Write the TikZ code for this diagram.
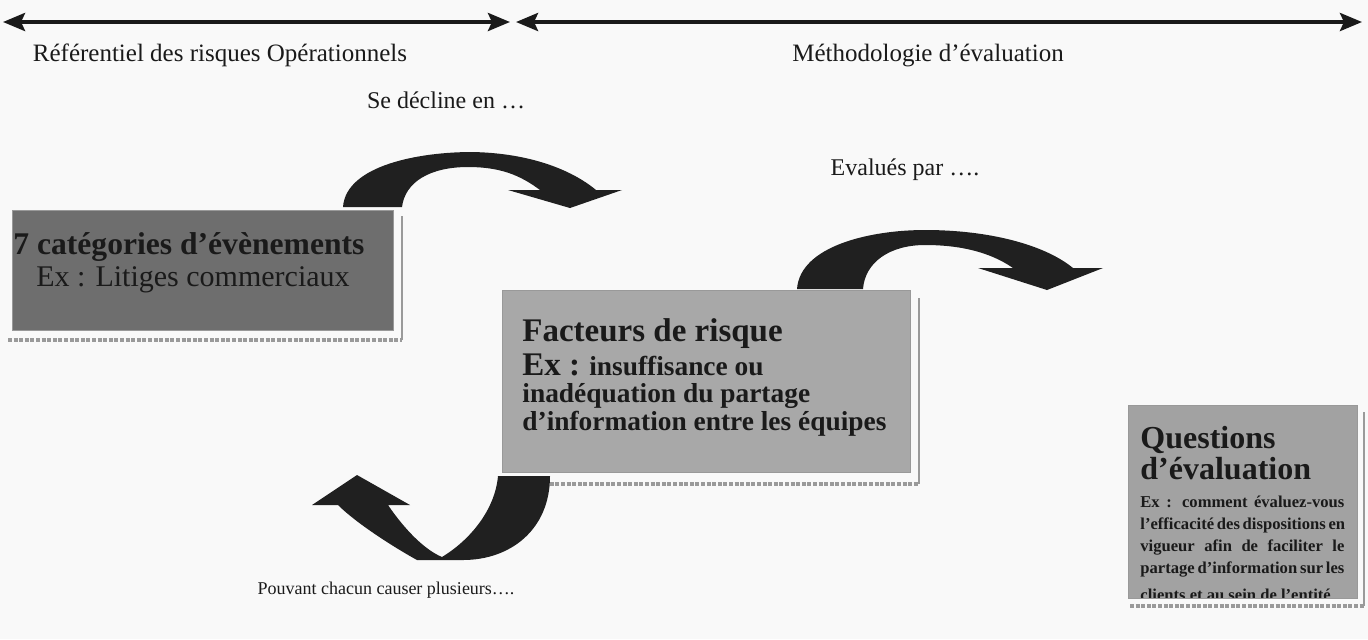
\documentclass[tikz,border=0pt]{standalone}
\usepackage{fontspec}
\setmainfont{Liberation Serif}
\usetikzlibrary{arrows.meta}
\definecolor{bg}{HTML}{F9F9F9}
\definecolor{ink}{HTML}{1A1A1A}
\definecolor{arrowc}{HTML}{202020}
\definecolor{boxA}{HTML}{6E6E6E}
\definecolor{boxB}{HTML}{A8A8A8}
\definecolor{boxC}{HTML}{A2A2A2}
\definecolor{shadowc}{HTML}{9A9A9A}
\tikzset{
  toparrow/.style={draw=ink, line width=2pt, {Stealth[length=11pt,width=9pt,inset=2pt]}-{Stealth[length=11pt,width=9pt,inset=2pt]}},
  lab/.style={inner sep=0pt, text=ink, font=\fontsize{12.5}{15}\selectfont},
  smalllab/.style={inner sep=0pt, text=ink, font=\fontsize{9}{11}\selectfont},
  box/.style={rectangle, inner sep=0pt, draw=gray!80, line width=0.3pt},
  shadowline/.style={draw=shadowc, line width=1.2pt},
  shadowdash/.style={draw=shadowc, line width=1.8pt, dash pattern=on 2pt off 0.8pt},
  blockarrow/.style={fill=arrowc},
  txt/.style={inner sep=0pt, text=ink, anchor=base west},
  titleA/.style={txt, font=\fontsize{15.8}{18}\selectfont\bfseries},
  bodyA/.style={txt, font=\fontsize{15}{18}\selectfont},
  titleB/.style={txt, font=\fontsize{16.5}{19}\selectfont\bfseries},
  bodyB/.style={txt, font=\fontsize{13.7}{16}\selectfont\bfseries},
  titleC/.style={txt, font=\fontsize{16}{19}\selectfont\bfseries},
  bodyC/.style={txt, font=\fontsize{8.3}{10}\selectfont\bfseries},
}
\begin{document}
\begin{tikzpicture}[x=0.5pt,y=-0.5pt]
\useasboundingbox (0,0) rectangle (1368,639);
\fill[bg] (0,0) rectangle (1368,639);

% top double arrows
\coordinate (l1) at (3,22);
\coordinate (r1) at (510,22);
\coordinate (l2) at (516,22);
\coordinate (r2) at (1362,22);
\draw[toparrow] (l1) -- (r1);
\draw[toparrow] (l2) -- (r2);
\node[lab] (ref) at (220,55) {Référentiel des risques Opérationnels};
\node[lab] (meth) at (928,55) {Méthodologie d’évaluation};

% labels
\node[lab, font=\fontsize{12}{14}\selectfont] (decl) at (446,100) {Se décline en …};
\node[lab, font=\fontsize{12}{14}\selectfont] (eval) at (905,170) {Evalués par ….};
\node[smalllab] (pouv) at (386,590) {Pouvant chacun causer plusieurs….};

% box 1
\draw[shadowline] (402,216) -- (402,340);
\draw[shadowdash] (8,340) -- (402,340);
\node[box, fill=boxA, minimum width=190.5pt, minimum height=60pt] (box1) at (202.5,270) {};
\node[titleA] (b1t) at (13,254) {7 catégories d’évènements};
\node[bodyA] (b1b) at (36,286) {Ex : Litiges commerciaux};

% box 2
\draw[shadowline] (919,298) -- (919,484);
\draw[shadowdash] (505,484) -- (919,484);
\node[box, fill=boxB, minimum width=204pt, minimum height=91pt] (box2) at (706,381) {};
\node[titleB] (b2t) at (522,341) {Facteurs de risque};
\node[bodyB] (b2a) at (522,375) {{\fontsize{16.5}{19}\selectfont Ex :} insuffisance ou};
\node[bodyB] (b2b) at (522,402) {inadéquation du partage};
\node[bodyB] (b2c) at (522,430) {d’information entre les équipes};

% box 3
\draw[shadowline] (1364,412) -- (1364,606);
\draw[shadowdash] (1130,606) -- (1364,606);
\node[box, fill=boxC, minimum width=114.5pt, minimum height=96.5pt] (box3) at (1242.5,501.5) {};
\node[titleC] (b3t) at (1140,448) {Questions};
\node[titleC] (b3u) at (1140,479) {d’évaluation};
\node[bodyC] (b3a) at (1140,507) {\makebox[102pt][s]{Ex : comment évaluez-vous}};
\node[bodyC] (b3b) at (1140,529) {\makebox[102pt][s]{l’efficacité des dispositions en}};
\node[bodyC] (b3c) at (1140,551) {\makebox[102pt][s]{vigueur afin de faciliter le}};
\node[bodyC] (b3d) at (1140,573) {\makebox[102pt][s]{partage d’information sur les}};
\begin{scope}
\clip (1128,405) rectangle (1357,597);
\node[bodyC] (b3e) at (1140,600) {clients et au sein de l’entité};
\end{scope}

% curved block arrows
\fill[blockarrow] (343,207) .. controls (346,165) and (420,152) .. (472,152)
  .. controls (530,153) and (572,170) .. (596,190) -- (622,190) -- (570,208) -- (508,190) -- (540,190)
  .. controls (520,175) and (500,167) .. (468,167)
  .. controls (430,167) and (405,182) .. (402,207) -- cycle;

\fill[blockarrow] (797,289) .. controls (800,246) and (870,230) .. (925,230)
  .. controls (990,230) and (1045,245) .. (1073,268) -- (1103,268) -- (1047,290) -- (978,268) -- (1013,268)
  .. controls (990,252) and (960,245) .. (925,245)
  .. controls (890,245) and (865,262) .. (863,289) -- cycle;

\fill[blockarrow] (550,476) .. controls (550,530) and (510,560) .. (463,560) -- (417,560)
  .. controls (390,545) and (355,522) .. (338,505) -- (312,505) -- (357,475) -- (410,505) -- (388,505)
  .. controls (405,530) and (425,550) .. (442,557)
  .. controls (470,540) and (495,510) .. (498,476) -- cycle;
\end{tikzpicture}
\end{document}
